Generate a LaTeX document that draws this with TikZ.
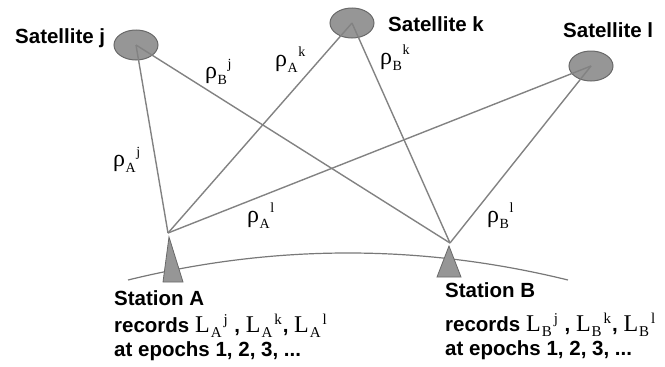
\documentclass[tikz,border=0pt]{standalone}
\usepackage{fontspec}
\setmainfont{Liberation Sans}
\newfontfamily\symfont{Liberation Serif}
\usetikzlibrary{shapes.geometric}

\definecolor{satfill}{RGB}{150,150,150}
\definecolor{satedge}{RGB}{105,105,105}
\definecolor{raycol}{RGB}{130,130,130}
\definecolor{groundcol}{RGB}{120,120,120}

% range symbol with a lowered station index and a raised satellite index
\newcommand\rng[3]{{\normalfont\symfont\fontsize{24}{24}\selectfont #1\kern0.5pt\raisebox{-0.28em}{\fontsize{14}{14}\selectfont #2}\kern0.5pt\raisebox{0.38em}{\fontsize{14}{14}\selectfont #3}}}
% carrier phase symbol, same layout
\newcommand\phs[3]{{\normalfont\symfont\fontsize{24}{24}\selectfont #1\kern1pt\raisebox{-0.22em}{\fontsize{15}{15}\selectfont #2}\kern2pt\raisebox{0.32em}{\fontsize{15}{15}\selectfont #3}\kern1pt}}

\begin{document}
\begin{tikzpicture}[x=1pt,y=-1pt,
  sat/.style={ellipse, draw=satedge, fill=satfill, line width=1pt,
    minimum width=44pt, minimum height=30pt, inner sep=0pt},
  ray/.style={draw=raycol, line width=1.4pt},
  station/.style={draw=satedge, fill=satfill, line width=0.8pt},
  lbl/.style={font=\bfseries\fontsize{20.5}{24}\selectfont, anchor=base west, inner sep=0pt},
  rho/.style={anchor=base west, inner sep=0pt}]
\useasboundingbox (0,0) rectangle (665,367);

% satellites
\node[sat] (sj) at (136,45) {};
\node[sat] (sk) at (352,23) {};
\node[sat] (sl) at (591,66) {};

% stations (antenna tips)
\coordinate (A) at (168,233);
\coordinate (B) at (450,243);

% ranges from both stations to all satellites
\draw[ray] (A) -- (sj.center);
\draw[ray] (A) -- (sk.center);
\draw[ray] (A) -- (sl.center);
\draw[ray] (B) -- (sj.center);
\draw[ray] (B) -- (sk.center);
\draw[ray] (B) -- (sl.center);

% earth surface
\coordinate (g1) at (128,280);
\coordinate (g2) at (568,280);
\draw[draw=groundcol, line width=1.2pt] (g1) .. controls (275,244) and (421,244) .. (g2);

% station markers
\draw[station] (163,282) -- (183,282) -- (169,237) -- cycle;
\draw[station] (437,277) -- (461,277) -- (449,246) -- cycle;

% satellite names
\node[lbl] (tj) at (15,43) {Satellite j};
\node[lbl] (tk) at (388,31) {Satellite k};
\node[lbl] (tl) at (563,37) {Satellite l};

% range labels
\node[rho] (rAj) at (113,166) {\rng{ρ}{A}{j}};
\node[rho] (rBj) at (205,78) {\rng{ρ}{B}{j}};
\node[rho] (rAk) at (275,66) {\rng{ρ}{A}{k}};
\node[rho] (rBk) at (380,64) {\rng{ρ}{B}{k}};
\node[rho] (rAl) at (247,222) {\rng{ρ}{A}{l}};
\node[rho] (rBl) at (487,222) {\rng{ρ}{B}{l}};

% station A text
\node[lbl] (sa1) at (114,305) {Station A};
\node[lbl] (sa2) at (114,332) {records \phs{L}{A}{j} , \phs{L}{A}{k}, \phs{L}{A}{l}};
\node[lbl] (sa3) at (114,356) {at epochs 1, 2, 3, ...};

% station B text
\node[lbl] (sb1) at (445,297) {Station B};
\node[lbl] (sb2) at (445,331) {records \phs{L}{B}{j} , \phs{L}{B}{k}, \phs{L}{B}{l}};
\node[lbl] (sb3) at (445,355) {at epochs 1, 2, 3, ...};
\end{tikzpicture}
\end{document}
